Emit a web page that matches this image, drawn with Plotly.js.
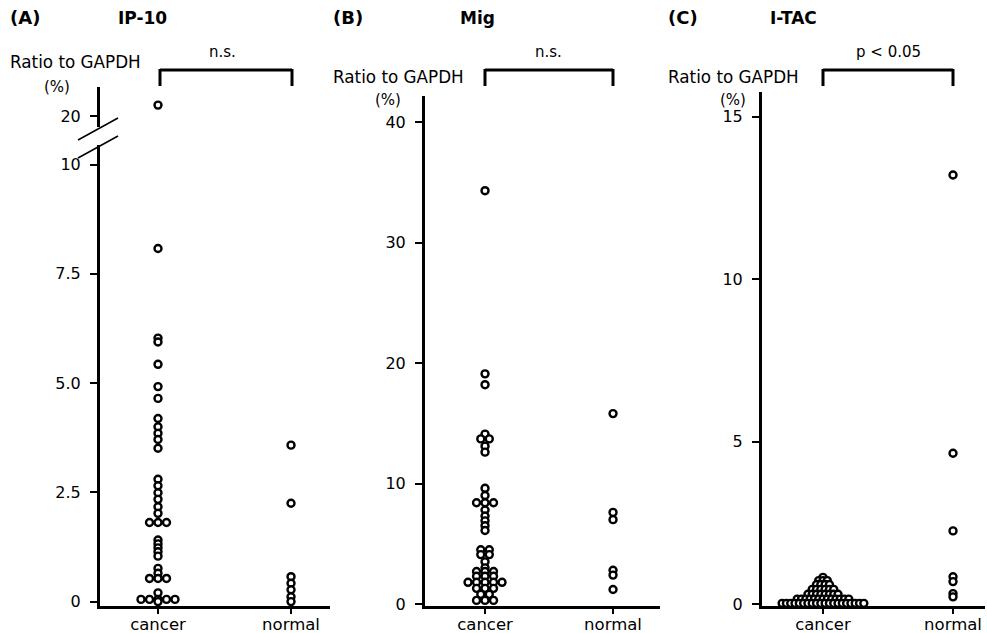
<!DOCTYPE html>
<html>
<head>
<meta charset="utf-8">
<script src="https://cdn.plot.ly/plotly-3.0.1.min.js"></script>
<style>html,body{margin:0;padding:0;background:#fff;}#chart{width:987px;height:633px;}</style>
</head>
<body>
<div id="chart"></div>
<script>
// ---------- data ----------
const categories = ['cancer', 'normal'];

const ipCancer = [21.0, 8.08, 6.03, 5.94, 5.43, 4.92, 4.65, 4.19, 4.0, 3.85, 3.71, 3.51,
  2.80, 2.65, 2.49, 2.34, 2.17, 2.02, 1.81, 1.81, 1.81, 1.41, 1.32, 1.23, 1.14, 1.04,
  0.76, 0.65, 0.53, 0.53, 0.53, 0.20, 0.05, 0.05, 0.05, 0.05, 0.05, 0.0];
const ipNormal = [3.58, 2.25, 0.57, 0.42, 0.27, 0.11, 0.0];

const migCancer = [34.3, 19.1, 18.2, 14.1, 13.7, 13.7, 13.1, 12.6,
  9.6, 9.0, 8.4, 8.4, 8.4, 7.8, 7.3, 6.9, 6.5, 6.1,
  4.5, 4.5, 4.1, 4.1, 3.5, 3.0, 2.7, 2.7, 2.7, 2.3, 2.3, 2.3,
  1.8, 1.8, 1.8, 1.8, 1.8, 1.3, 1.3, 1.3, 0.8, 0.8, 0.3, 0.3, 0.3];
const migNormal = [15.8, 7.6, 7.0, 2.8, 2.4, 1.2];

const itacCancer = [0.82,
  0.72, 0.72, 0.72,
  0.60, 0.60, 0.60, 0.60,
  0.45, 0.45, 0.45, 0.45, 0.45, 0.45,
  0.30, 0.30, 0.30, 0.30, 0.30, 0.30, 0.30, 0.30,
  0.15, 0.15, 0.15, 0.15, 0.15, 0.15, 0.15, 0.15, 0.15, 0.15, 0.15, 0.15, 0.15,
  0.02, 0.02, 0.02, 0.02, 0.02, 0.02, 0.02, 0.02, 0.02, 0.02,
  0.02, 0.02, 0.02, 0.02, 0.02, 0.02, 0.02, 0.02, 0.02, 0.02];
const itacNormal = [13.2, 4.64, 2.25, 0.84, 0.69, 0.32, 0.22];

const ipTicks = [0, 2.5, 5, 7.5, 10];
const ipTickText = ['0', '2.5', '5.0', '7.5', '10'];
const ipUpperTicks = [20];
const migTicks = [0, 10, 20, 30, 40];
const itacTicks = [0, 5, 10, 15];

// ---------- geometry ----------
const W = 987, H = 633;
const px = x => x / W;
const py = y => 1 - y / H;
const FONT = 'DejaVu Sans, Liberation Sans, sans-serif';

const xA = {dom: [100, 330], range: [-0.436, 1.293]};
const xB = {dom: [425, 660], range: [-0.469, 1.367]};
const xC = {dom: [762, 985], range: [-0.469, 1.246]};

function swarm(values, catIndex, xdef, spacingPx) {
  const unit = (xdef.dom[1] - xdef.dom[0]) / (xdef.range[1] - xdef.range[0]);
  const counts = {}, seen = {};
  values.forEach(v => { counts[v] = (counts[v] || 0) + 1; });
  return values.map(v => {
    const k = seen[v] || 0; seen[v] = k + 1;
    const off = (k - (counts[v] - 1) / 2) * spacingPx / unit;
    return catIndex + off;
  });
}

const marker = {symbol: 'circle', size: 7, color: '#ffffff', line: {color: '#000000', width: 2.4}};

function trace(vals, cat, xdef, sp, xa, ya) {
  return {type: 'scatter', mode: 'markers', x: swarm(vals, cat, xdef, sp), y: vals,
    xaxis: xa, yaxis: ya, marker: marker, cliponaxis: false, hoverinfo: 'skip', showlegend: false};
}

const ipCancerLow = ipCancer.filter(v => v < 15);
const ipCancerHigh = ipCancer.filter(v => v >= 15);

const traces = [
  trace(ipCancerLow, 0, xA, 8.5, 'x', 'y'),
  trace(ipCancerHigh, 0, xA, 8.5, 'x', 'y2'),
  trace(ipNormal, 1, xA, 8.5, 'x', 'y'),
  trace(migCancer, 0, xB, 8.5, 'x2', 'y3'),
  trace(migNormal, 1, xB, 8.5, 'x2', 'y3'),
  trace(itacCancer, 0, xC, 4.3, 'x3', 'y4'),
  trace(itacNormal, 1, xC, 4.3, 'x3', 'y4')
];

function xax(def, anchor) {
  return {domain: [px(def.dom[0]), px(def.dom[1])], range: def.range, anchor: anchor,
    tickmode: 'array', tickvals: [0, 1], ticktext: categories, ticks: 'outside', ticklen: 5,
    tickwidth: 2, tickcolor: '#000', showline: true, linewidth: 3, linecolor: '#000',
    showgrid: false, zeroline: false, fixedrange: true, ticklabelstandoff: -4,
    tickfont: {family: FONT, size: 16.5, color: '#000'}};
}
function yax(top, bottom, range, anchor, tickvals, ticktext) {
  return {domain: [py(bottom), py(top)], range: range, anchor: anchor,
    tickmode: 'array', tickvals: tickvals, ticktext: ticktext || tickvals.map(String),
    ticks: 'outside', ticklen: 7, tickwidth: 2, tickcolor: '#000', ticklabelstandoff: 6,
    showline: true, linewidth: 3, linecolor: '#000', showgrid: false, zeroline: false,
    fixedrange: true, tickfont: {family: FONT, size: 16, color: '#000'}};
}

const txt = (text, x, y, size, opts) => Object.assign({text: text, xref: 'paper', yref: 'paper',
  x: px(x), y: py(y), showarrow: false, xanchor: 'left', yanchor: 'middle',
  font: {family: FONT, size: size, color: '#000'}}, opts || {});

const annotations = [
  txt('<b>(A)</b>', 8, 18, 18), txt('<b>IP-10</b>', 116, 18, 17),
  txt('Ratio to GAPDH', 8, 62, 16.8), txt('(%)', 57, 87, 15, {xanchor: 'center'}),
  txt('n.s.', 222, 52, 15, {xanchor: 'center'}),
  txt('<b>(B)</b>', 331, 18, 18), txt('<b>Mig</b>', 458, 18, 17),
  txt('Ratio to GAPDH', 331, 77, 16.8), txt('(%)', 388, 100, 15, {xanchor: 'center'}),
  txt('n.s.', 548, 52, 15, {xanchor: 'center'}),
  txt('<b>(C)</b>', 666, 18, 18), txt('<b>I-TAC</b>', 768, 18, 17),
  txt('Ratio to GAPDH', 666, 77, 16.8), txt('(%)', 733, 100, 15, {xanchor: 'center'}),
  txt('p < 0.05', 888, 52, 15, {xanchor: 'center'})
];

function bracket(x1, x2) {
  const l = {color: '#000', width: 3};
  return [
    {type: 'line', xref: 'paper', yref: 'paper', x0: px(x1), x1: px(x2), y0: py(70), y1: py(70), line: l},
    {type: 'line', xref: 'paper', yref: 'paper', x0: px(x1), x1: px(x1), y0: py(69), y1: py(86), line: l},
    {type: 'line', xref: 'paper', yref: 'paper', x0: px(x2), x1: px(x2), y0: py(69), y1: py(86), line: l}
  ];
}
const shapes = [].concat(bracket(160, 292), bracket(485, 613), bracket(823, 953), [
  {type: 'line', xref: 'paper', yref: 'paper', x0: px(78), y0: py(140), x1: px(118), y1: py(118), line: {color: '#000', width: 1.5}},
  {type: 'line', xref: 'paper', yref: 'paper', x0: px(78), y0: py(158), x1: px(118), y1: py(136), line: {color: '#000', width: 1.5}}
]);

const layout = {
  width: W, height: H, margin: {l: 0, r: 0, t: 0, b: 0},
  paper_bgcolor: '#fff', plot_bgcolor: 'rgba(0,0,0,0)', showlegend: false,
  xaxis: xax(xA, 'y'),
  yaxis: yax(145, 606, [(601.6 - 606) / 43.7, (601.6 - 145) / 43.7], 'x', ipTicks, ipTickText),
  yaxis2: yax(87, 127, [20 - 11 / 10.9, 20 + 29 / 10.9], 'x', ipUpperTicks),
  xaxis2: xax(xB, 'y3'),
  yaxis3: yax(96, 606, [-2 / 12.05, 508 / 12.05], 'x2', migTicks),
  xaxis3: xax(xC, 'y4'),
  yaxis4: yax(92, 606, [-2 / 32.5, 512 / 32.5], 'x3', itacTicks),
  annotations: annotations, shapes: shapes
};

Plotly.newPlot('chart', traces, layout, {displayModeBar: false, staticPlot: true});
</script>
</body>
</html>
